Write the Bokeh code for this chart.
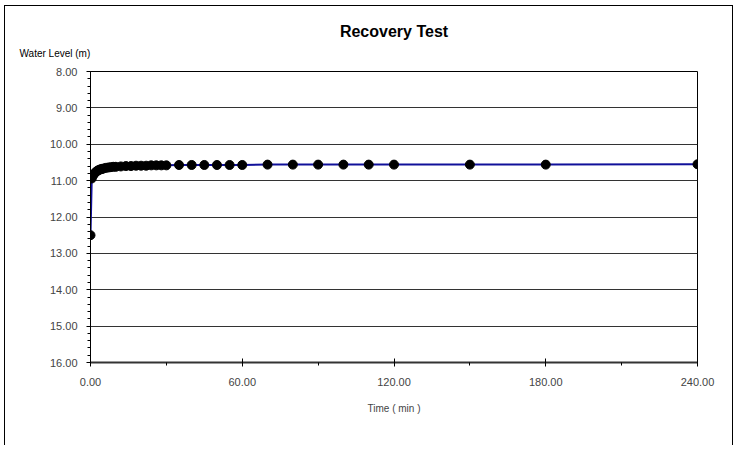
from bokeh.plotting import figure
from bokeh.models import Range1d, FixedTicker, NumeralTickFormatter, Title, ColumnDataSource
from bokeh.embed import file_html
from bokeh.resources import INLINE

# Data
time_min = [0, 0.5, 1, 1.5, 2, 2.5, 3, 3.5, 4, 4.5, 5, 6, 7, 8, 9, 10, 12, 14, 16, 18,
            20, 22, 24, 26, 28, 30, 35, 40, 45, 50, 55, 60, 70, 80, 90, 100, 110, 120,
            150, 180, 240]
water_level = [12.50, 10.94, 10.86, 10.81, 10.77, 10.74, 10.72, 10.70, 10.69, 10.68, 10.67,
               10.65, 10.64, 10.63, 10.62, 10.62, 10.61, 10.60, 10.60, 10.59,
               10.59, 10.59, 10.58, 10.58, 10.58, 10.58, 10.57, 10.57, 10.57, 10.57, 10.57,
               10.57, 10.56, 10.56, 10.56, 10.56, 10.56, 10.56, 10.56, 10.56, 10.55]
x_major = [0, 60, 120, 180, 240]
x_minor = [30, 90, 150, 210]
y_major = [8, 9, 10, 11, 12, 13, 14, 15, 16]
y_minor = [round(8 + 0.2 * i, 1) for i in range(41)]

FONT = "'Liberation Sans Narrow', 'Liberation Sans', Arial, sans-serif"

src = ColumnDataSource(dict(t=time_min, wl=water_level))

p = figure(width=729, height=440, output_backend="svg", toolbar_location=None,
           x_range=Range1d(0, 240), y_range=Range1d(16, 8),
           min_border_left=85, min_border_right=37, min_border_bottom=84, min_border_top=65,
           background_fill_color="white", border_fill_color="white")
p.styles = {"border-left": "1px solid black", "border-right": "1px solid black",
            "border-top": "1px solid black", "margin-left": "4px", "margin-top": "5px"}

p.title.text = "Recovery Test"
p.title.align = "center"
p.title.text_font = FONT
p.title.text_font_size = "16px"
p.title.text_font_style = "bold"
p.title.text_color = "black"
p.title.standoff = -14

p.add_layout(Title(text="Water Level (m)", align="left", offset=-71, text_font=FONT,
                   text_font_size="10px", text_font_style="normal", text_color="black",
                   standoff=26), "above")

p.outline_line_color = "black"
p.outline_line_width = 1

# x axis
xa = p.xaxis[0]
xa.ticker = FixedTicker(ticks=x_major, minor_ticks=x_minor)
xa.formatter = NumeralTickFormatter(format="0.00")
xa.axis_label = "Time ( min )"
xa.axis_label_text_font = FONT
xa.axis_label_text_font_size = "10px"
xa.axis_label_text_font_style = "normal"
xa.axis_label_standoff = 14
xa.major_label_text_font = FONT
xa.major_label_text_font_size = "11px"
xa.major_label_standoff = 11
xa.axis_line_width = 2
xa.axis_line_color = "#333333"
xa.major_tick_in = 4
xa.major_tick_out = 4
xa.minor_tick_in = 0
xa.minor_tick_out = 3
xa.major_tick_line_color = "black"
xa.minor_tick_line_color = "black"

# y axis
ya = p.yaxis[0]
ya.ticker = FixedTicker(ticks=y_major, minor_ticks=y_minor)
ya.formatter = NumeralTickFormatter(format="0.00")
ya.major_label_text_font = FONT
ya.major_label_text_font_size = "11px"
ya.major_label_standoff = 9
ya.axis_line_color = "black"
ya.major_tick_in = 0
ya.major_tick_out = 4
ya.minor_tick_in = 0
ya.minor_tick_out = 3
ya.major_tick_line_color = "black"
ya.minor_tick_line_color = "black"

p.xgrid.grid_line_color = None
p.ygrid.grid_line_color = "#333333"
p.ygrid.grid_line_width = 1

p.line("t", "wl", source=src, line_color="#10109a", line_width=2)
p.scatter("t", "wl", source=src, size=9, fill_color="black", line_color="black")

open("out.html", "w").write(file_html(p, INLINE))
